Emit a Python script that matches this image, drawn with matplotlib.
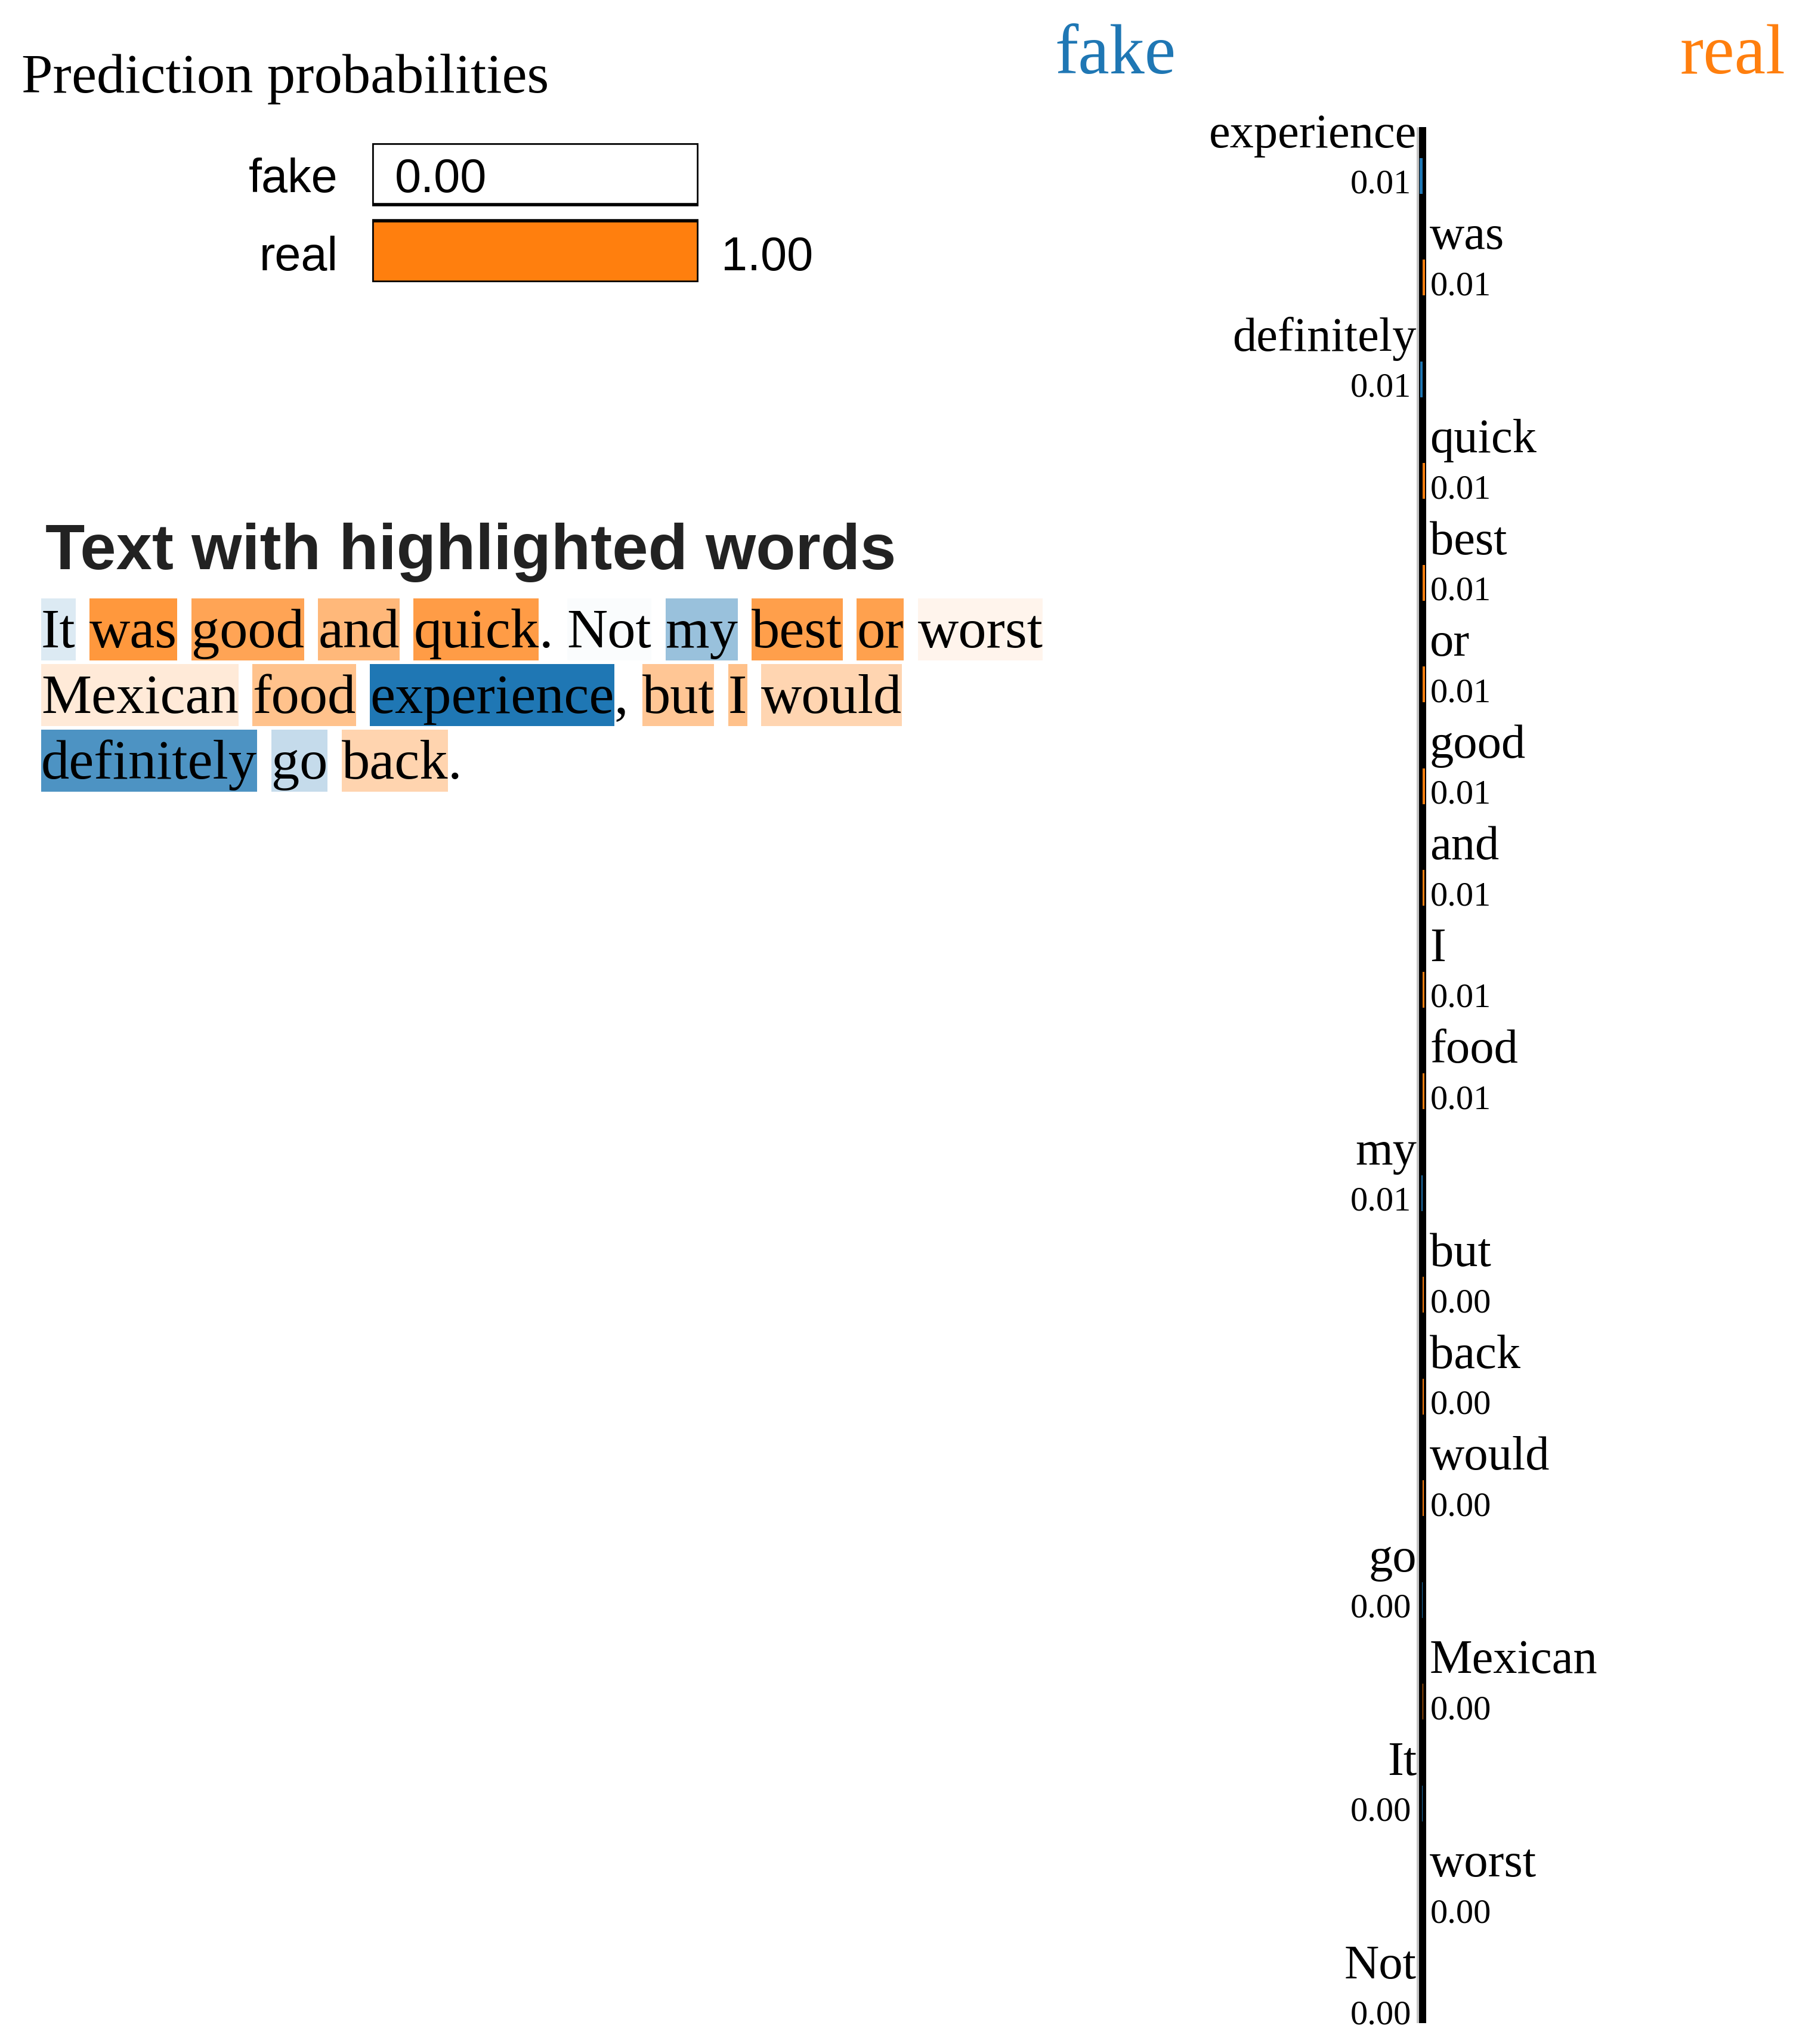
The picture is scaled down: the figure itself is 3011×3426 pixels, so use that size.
import re
import matplotlib
matplotlib.use("Agg")
import matplotlib.pyplot as plt
from matplotlib.patches import Rectangle
from matplotlib.transforms import offset_copy

# clases y probabilidades
clases = ["fake", "real"]
colores = ["#1f77b4", "#ff7f0e"]
probas = [0.00, 1.00]

# pesos de cada palabra (negativo = fake, positivo = real), en el orden del grafico
palabras = ["experience", "was", "definitely", "quick", "best", "or", "good", "and", "I",
            "food", "my", "but", "back", "would", "go", "Mexican", "It", "worst", "Not"]
pesos = [-0.0112, 0.0090, -0.0089, 0.0086, 0.0084, 0.0082, 0.0079, 0.0062, 0.0054,
         0.0053, -0.0051, 0.0049, 0.0037, 0.0036, -0.0029, 0.0018, -0.0017, 0.0009, -0.0002]

texto = "It was good and quick. Not my best or worst Mexican food experience, but I would definitely go back."

SERIF = "Liberation Serif"
SANS = "Liberation Sans"
W, H = 3011, 3426


def caja(x0, y0, x1, y1):
    return [x0 / W, 1 - y1 / H, (x1 - x0) / W, (y1 - y0) / H]


fig = plt.figure(figsize=(W / 100, H / 100), dpi=100)
fondo = fig.add_axes([0, 0, 1, 1])
fondo.set_xlim(0, W)
fondo.set_ylim(H, 0)
fondo.axis("off")

# --- probabilidades ---
fondo.text(36, 155, "Prediction probabilities", fontsize=68, family=SERIF, va="baseline")

ax_p = fig.add_axes(caja(624, 240, 1171, 473))
ax_p.set_xlim(0, 1)
ax_p.set_ylim(1.395, -0.395)
ax_p.axis("off")
filas = range(len(clases))
ax_p.barh(filas, probas, height=0.79, color=colores, zorder=1)
ax_p.barh(filas, [1] * len(clases), height=0.79, facecolor="none", edgecolor="black",
          linewidth=4, zorder=2)
for i, (nombre, p) in enumerate(zip(clases, probas)):
    ax_p.annotate(nombre, xy=(0, i), xytext=(-57, -31), textcoords="offset pixels",
                  ha="right", va="baseline", fontsize=57, family=SANS)
    ax_p.annotate(f"{p:.2f}", xy=(p, i), xytext=(38, -31), textcoords="offset pixels",
                  ha="left", va="baseline", fontsize=57, family=SANS)

# --- texto resaltado ---
fondo.text(76, 954, "Text with highlighted words", fontsize=78, weight="bold",
           family=SANS, color="#222222", va="baseline")

fuente_txt = dict(family=SERIF, fontsize=68)
r = fig.canvas.get_renderer()


def ancho(s):
    t = fondo.text(0, 0, s, **fuente_txt)
    w = t.get_window_extent(renderer=r).width
    t.remove()
    return w


espacio = ancho("a a") - ancho("aa")
peso = dict(zip(palabras, pesos))
maximo = max(abs(p) for p in pesos)
x0, base0, paso, ancho_max = 69, 1085, 110, 1760
x, linea = x0, 0
tokens = re.findall(r"\w+|[^\w\s]", texto)
for k, tok in enumerate(tokens):
    w = ancho(tok)
    if tok[0].isalnum() and k > 0:
        if x + espacio + w > x0 + ancho_max:
            x = x0
            linea += 1
        else:
            x += espacio
    base = base0 + linea * paso
    if tok in peso:
        c = colores[1] if peso[tok] > 0 else colores[0]
        fondo.add_patch(Rectangle((x, base - 82), w, 104, facecolor=c,
                                  alpha=abs(peso[tok]) / maximo, lw=0, zorder=1))
    fondo.text(x, base, tok, va="baseline", zorder=2, **fuente_txt)
    x += w

# --- grafico de barras ---
fondo.text(1870, 123, "fake", ha="center", va="baseline", fontsize=85, family=SERIF,
           color=colores[0])
fondo.text(2993, 123, "real", ha="right", va="baseline", fontsize=85, family=SERIF,
           color=colores[1])

n = len(palabras)
ax_b = fig.add_axes(caja(1900, 213, 2870, 3391))
ax_b.set_xlim(-1, 1)
ax_b.set_ylim(n - 1 + 0.16, -0.48)
ax_b.axis("off")
ax_b.patch.set_alpha(0)
ax_b.barh(range(n), pesos, height=0.35,
          color=[colores[1] if p > 0 else colores[0] for p in pesos], zorder=3)
ax_b.plot([0, 0], [0, 1], color="#c4c4c4", lw=3.6, zorder=1, solid_capstyle="butt",
          transform=offset_copy(ax_b.get_xaxis_transform(), fig=fig, x=-8, units="dots"))
ax_b.axvline(0, color="black", lw=8.6, zorder=2, solid_capstyle="butt")
for i, (pal, p) in enumerate(zip(palabras, pesos)):
    if p > 0:
        dx_pal, dx_val, ha = 12, 13, "left"
    else:
        dx_pal, dx_val, ha = -10, -19, "right"
    ax_b.annotate(pal, xy=(0, i), xytext=(dx_pal, 48), textcoords="offset pixels",
                  ha=ha, va="baseline", fontsize=58, family=SERIF)
    ax_b.annotate(f"{abs(p):.2f}", xy=(0, i), xytext=(dx_val, -29), textcoords="offset pixels",
                  ha=ha, va="baseline", fontsize=42, family=SERIF)

fig.savefig("out.png", dpi=100)
